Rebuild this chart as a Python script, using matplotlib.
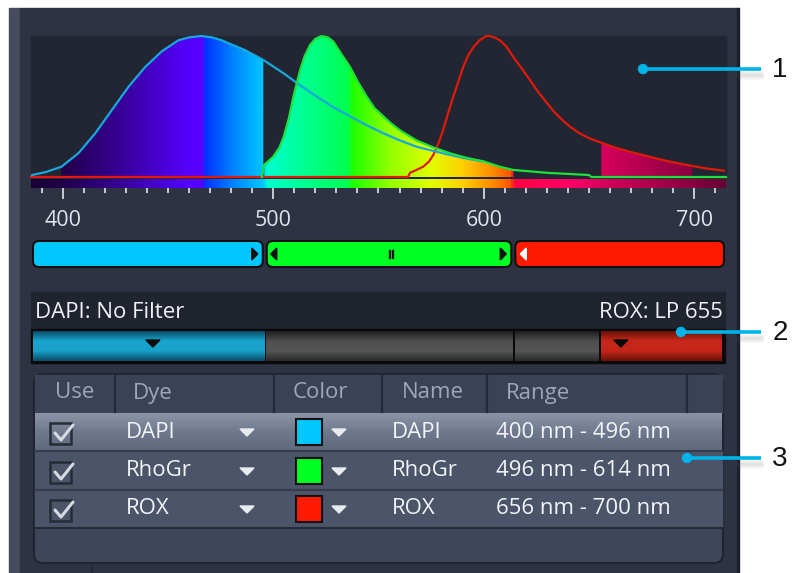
import numpy as np
import matplotlib
matplotlib.use("Agg")
import matplotlib.pyplot as plt
from matplotlib.colors import LinearSegmentedColormap
from matplotlib.patches import Rectangle, FancyBboxPatch, Polygon, Circle

plt.rcParams["font.family"] = ["Open Sans", "DejaVu Sans"]

W, H = 793, 573
NM_MIN, NM_MAX = 385, 715

# emission curves (nm, relative intensity)
dapi_nm = [385.5, 392, 399.5, 407.6, 415.5, 423.4, 431.3, 439.2, 447, 455, 460, 466,
           471, 475.5, 481, 486.6, 495.3, 505, 512.8, 520.7, 528, 536.5, 544, 552.3,
           560, 568, 576, 584, 592, 599.7]
dapi_val = [0.014, 0.035, 0.073, 0.17, 0.31, 0.475, 0.64, 0.78, 0.89, 0.97, 0.99, 1.0,
            0.99, 0.97, 0.935, 0.90, 0.83, 0.735, 0.65, 0.57, 0.50, 0.43, 0.37, 0.31,
            0.26, 0.215, 0.185, 0.156, 0.13, 0.11]

rhogr_nm = [494.6, 495.7, 500, 503, 505, 507.5, 509.6, 512.8, 515, 517.5, 520, 523, 526,
            528.6, 532, 536.5, 540, 544.4, 548, 552.3, 556, 560, 568, 576, 584, 592, 600,
            607.6, 614, 629.7, 650, 651, 715]
rhogr_val = [0.0, 0.085, 0.144, 0.21, 0.285, 0.42, 0.57, 0.76, 0.86, 0.936, 0.98, 1.0, 0.99,
             0.96, 0.88, 0.78, 0.68, 0.57, 0.49, 0.43, 0.38, 0.333, 0.26, 0.21, 0.168, 0.135,
             0.11, 0.073, 0.05, 0.03, 0.014, 0.0, 0.0]

rox_nm = [385, 564, 565, 568, 571.2, 574, 576, 578.5, 580.7, 583, 585.5, 588, 590.2, 592.5,
          595, 598, 601.3, 602.8, 605, 607.6, 611, 614, 618, 621.8, 625.5, 629.7, 633.5,
          637.6, 641.5, 645.5, 650, 655.8, 662, 669, 677, 685, 692, 699, 706, 714]
rox_val = [0.0, 0.0, 0.03, 0.05, 0.073, 0.11, 0.156, 0.24, 0.333, 0.45, 0.57, 0.68, 0.78, 0.86,
           0.92, 0.97, 1.0, 1.0, 0.99, 0.97, 0.92, 0.85, 0.77, 0.69, 0.61, 0.53, 0.46,
           0.40, 0.35, 0.31, 0.275, 0.243, 0.21, 0.18, 0.15, 0.12, 0.098, 0.078, 0.06, 0.045]

dyes = ["DAPI", "RhoGr", "ROX"]
dye_colors = ["#00c8ff", "#00ff22", "#ff1a00"]
line_colors = ["#18a8dc", "#1ee03a", "#e01a08"]
range_lo = [400, 496, 656]
range_hi = [496, 614, 700]
filter_text = ["DAPI: No Filter", "ROX: LP 655"]
slider_edges = [NM_MIN, 496, 614, NM_MAX]
filter_edges = [NM_MIN, 496, 614, 655, NM_MAX]
major_ticks = [400, 500, 600, 700]
headers = ["Use", "Dye", "Color", "Name", "Range"]

# spectrum colour stops
spec_nm = [385, 400, 430, 460, 466, 467, 480, 495, 497, 510, 535, 538, 555, 575, 590, 605,
           613, 615, 640, 660, 700, 715]
spec_col = ["#1a0035", "#22004a", "#3a00a0", "#5500ff", "#5a00ff", "#0030ff", "#0080ff",
            "#00c8ff", "#00ffd0", "#00ffa0", "#00ff50", "#20ff00", "#90ff00", "#e0ff00",
            "#ffd000", "#ff8800", "#ff5500", "#ff0040", "#ff0066", "#d0005a", "#880040",
            "#660033"]
spec = LinearSegmentedColormap.from_list(
    "spec", [((n - NM_MIN) / (NM_MAX - NM_MIN), c) for n, c in zip(spec_nm, spec_col)])

PL, PR, PT, PB = 31, 726, 34, 178   # plot area in pixels
BASE = 177
FS = 16


def px(nm):
    return PL + (nm - NM_MIN) * (PR - PL) / (NM_MAX - NM_MIN)


def vgrad(ax, x0, x1, y0, y1, colors, z=1):
    cm = LinearSegmentedColormap.from_list("", colors)
    ax.imshow(np.linspace(0, 1, 64)[:, None], extent=[x0, x1, y1, y0], cmap=cm,
              aspect="auto", zorder=z, interpolation="bilinear")


fig = plt.figure(figsize=(W / 100, H / 100), dpi=100)
fig.patch.set_facecolor("white")

ui = fig.add_axes([0, 0, 1, 1])
ui.axis("off")

# panel
ui.add_patch(Rectangle((9, 8), 11, H, color="#464c5f", zorder=0))
ui.add_patch(Rectangle((20, 8), 718, H, color="#2e3344", zorder=0))
ui.add_patch(Rectangle((737, 8), 2, H, color="#1c202b", zorder=0))
ui.add_patch(Rectangle((PL, 36), PR - PL, PB - 36, color="#222633", zorder=0.5))

# sliders
for i in range(3):
    x0 = px(slider_edges[i]) + 2
    x1 = px(slider_edges[i + 1]) - 2
    ui.add_patch(FancyBboxPatch((x0, 241), x1 - x0, 26,
                                boxstyle="round,pad=0,rounding_size=6",
                                fc=dye_colors[i], ec="#101010", lw=1.5, zorder=2))
    yc = 254
    if i in (0, 1):
        ui.add_patch(Polygon([[x1 - 11, yc - 6], [x1 - 11, yc + 6], [x1 - 5, yc]],
                             color="#101010", zorder=3))
    if i == 1:
        ui.add_patch(Polygon([[x0 + 10, yc - 6], [x0 + 10, yc + 6], [x0 + 4, yc]],
                             color="#101010", zorder=3))
        xm = (x0 + x1) / 2 + 2
        for dx in (-1.5, 1.5):
            for dy in (-3, 0, 3):
                ui.add_patch(Rectangle((xm + dx - 0.8, yc + dy - 0.8), 1.6, 1.6,
                                       color="#101010", zorder=3))
    if i == 2:
        ui.add_patch(Polygon([[x0 + 11, yc - 6], [x0 + 11, yc + 6], [x0 + 5, yc]],
                             color="white", zorder=3))

# filter section
ui.add_patch(Rectangle((31, 292), 694, 38, color="#20242f", zorder=1))
ui.text(35, 312, filter_text[0], color="#eef0f4", fontsize=FS, va="center", ha="left", zorder=3)
ui.text(723, 312, filter_text[1], color="#eef0f4", fontsize=FS, va="center", ha="right", zorder=3)
ui.add_patch(Rectangle((31, 329), 694, 34, color="#0a0a0a", zorder=1))
seg_cols = [["#0b4c66", "#19a6d0", "#17a0ca", "#0b4c66"],
            ["#1e1e1e", "#4e4e4e", "#555555", "#2a2a2a"],
            ["#1e1e1e", "#4e4e4e", "#555555", "#2a2a2a"],
            ["#6a1208", "#c8281a", "#c4261a", "#6a1208"]]
for i in range(4):
    x0 = px(filter_edges[i]) + 1.5
    x1 = px(filter_edges[i + 1]) - 1
    vgrad(ui, x0, min(x1, 722), 331, 361, seg_cols[i], z=2)
for i in (0, 3):
    xm = (px(filter_edges[i]) + px(filter_edges[i + 1])) / 2 + (5 if i == 0 else -42)
    ui.add_patch(Polygon([[xm - 7, 340], [xm + 7, 340], [xm, 347]], color="#0a0a0a", zorder=3))

# table
ui.add_patch(FancyBboxPatch((34, 374), 689, 189, boxstyle="round,pad=0,rounding_size=9",
                            fc="#3f4659", ec="#20242f", lw=1.5, zorder=1))
ui.add_patch(Rectangle((35, 375), 687, 38, color="#3b4255", zorder=2))
col_x = [115, 274, 382, 487, 687]
for cx in col_x:
    ui.plot([cx, cx], [375, 412], color="#23283a", lw=1.6, zorder=3)
head_x = [55, 133, 293, 402, 506]
for hx, t in zip(head_x, headers):
    ui.text(hx, 393, t, color="#9ea7b8", fontsize=FS, va="center", ha="left", zorder=3)

row_top = [413, 452, 490]
for r in range(3):
    y0 = row_top[r]
    yc = y0 + 19
    if r == 0:
        vgrad(ui, 35, 722, y0, y0 + 38, ["#8c95a8", "#6f788c", "#5f687d"], z=2)
    else:
        ui.add_patch(Rectangle((35, y0), 687, 38, color="#4c5469", zorder=2))
    ui.plot([35, 722], [y0 + 38, y0 + 38], color="#363c4d" if r < 2 else "#262b38",
            lw=1.5, zorder=3)
    # checkbox
    ui.add_patch(Rectangle((50, yc - 9), 21, 21, fc="none", ec="#262b36", lw=1.8, zorder=3))
    ui.plot([55, 61, 73], [yc + 1, yc + 8, yc - 7], color="#d6dae2", lw=2.2,
            solid_capstyle="round", zorder=4)
    ui.text(126, yc, dyes[r], color="#f2f4f8", fontsize=FS, va="center", ha="left", zorder=3)
    ui.add_patch(Polygon([[240, yc - 3], [254, yc - 3], [247, yc + 4]], color="#e8ebf0", zorder=3))
    ui.add_patch(Rectangle((296, yc - 13), 26, 26, fc=dye_colors[r], ec="#101010", lw=1.5, zorder=3))
    ui.add_patch(Polygon([[332, yc - 3], [346, yc - 3], [339, yc + 4]], color="#e8ebf0", zorder=3))
    ui.text(392, yc, dyes[r], color="#f2f4f8", fontsize=FS, va="center", ha="left", zorder=3)
    ui.text(496, yc, f"{range_lo[r]} nm - {range_hi[r]} nm", color="#f2f4f8", fontsize=FS,
            va="center", ha="left", zorder=3)
ui.plot([92, 92], [565, H], color="#23283a", lw=1.5, zorder=3)

ui.set_xlim(0, W)
ui.set_ylim(H, 0)

# spectrum plot
ax = fig.add_axes([PL / W, 1 - PB / H, (PR - PL) / W, (PB - PT) / H])
ax.patch.set_visible(False)
ax.axis("off")

grad = np.linspace(0, 1, 660)[None, :]
curves = [(dapi_nm, dapi_val), (rhogr_nm, rhogr_val), (rox_nm, rox_val)]
for i, (xs, ys) in enumerate(curves):
    xs = np.array(xs)
    ys = np.array(ys)
    m = (xs >= range_lo[i] - 1) & (xs <= range_hi[i] + 0.5)
    fx, fy = xs[m], ys[m]
    poly = Polygon(np.column_stack([np.r_[fx[0], fx, fx[-1]], np.r_[0, fy, 0]]),
                   closed=True, fc="none", ec="none", transform=ax.transData)
    ax.add_patch(poly)
    im = ax.imshow(grad, extent=[NM_MIN, NM_MAX, 0, 1.1], cmap=spec, aspect="auto", zorder=1)
    im.set_clip_path(poly)

for i in (2, 0, 1):
    xs, ys = curves[i]
    ax.plot(xs, ys, color=line_colors[i], lw=1.6, zorder=3, clip_on=False)
ax.set_xlim(NM_MIN, NM_MAX)
ax.set_ylim(-(PB - BASE) / 141, (BASE - PT) / 141)

# spectrum bar with wavelength ticks
bx = fig.add_axes([PL / W, 1 - 188 / H, (PR - PL) / W, 9 / H])
bx.imshow(grad, extent=[NM_MIN, NM_MAX, 0, 1], cmap=spec, aspect="auto")
bx.set_xlim(NM_MIN, NM_MAX)
bx.set_ylim(0, 1)
bx.set_yticks([])
for s in bx.spines.values():
    s.set_visible(False)
bx.set_xticks(major_ticks)
bx.set_xticks(np.arange(390, 711, 10), minor=True)
bx.tick_params(axis="x", which="major", length=8, width=1.4, color="#c8ccd6",
               labelcolor="#dfe3ea", labelsize=15.5, pad=8)
bx.tick_params(axis="x", which="minor", length=3.5, width=1.4, color="#c8ccd6")

# callouts
top = fig.add_axes([0, 0, 1, 1])
top.axis("off")
top.set_xlim(0, W)
top.set_ylim(H, 0)
callouts = [("1", 643, 69), ("2", 681, 332), ("3", 687, 458)]
for label, x0, y0 in callouts:
    for k, a in enumerate([0.10, 0.08, 0.05]):
        top.plot([738, 762], [y0 + 5 + k * 2, y0 + 5 + k * 2], color="#606060", lw=3,
                 alpha=a, solid_capstyle="round")
    top.plot([x0, 761], [y0, y0], color="#00b4ea", lw=2.6, solid_capstyle="butt")
    top.add_patch(Circle((x0, y0), 4.5, color="#00b4ea"))
    top.text(780, y0 + 1, label, color="#111111", fontsize=20,
             family=["Liberation Sans", "DejaVu Sans"], ha="center", va="center")

fig.savefig("out.png", dpi=100)
